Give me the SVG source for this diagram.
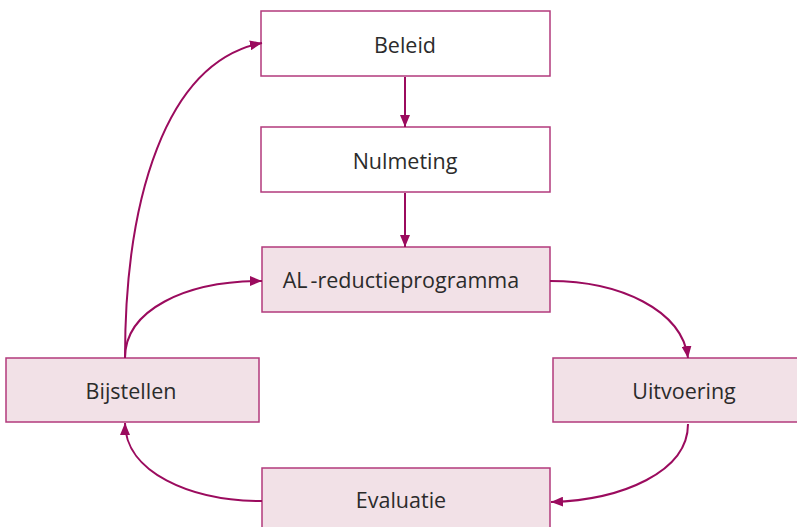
<svg xmlns="http://www.w3.org/2000/svg" width="797" height="527" viewBox="0 0 797 527">
  <style>
    .box { fill: #ffffff; stroke: #b23a7c; stroke-width: 1.5; }
    .box.tint { fill: #f2e1e7; }
    .label { font-family: "Open Sans", "Noto Sans", sans-serif; font-size: 21.5px; fill: #2b2b2b; text-anchor: middle; }
    .link { fill: none; stroke: #9b0b5e; stroke-width: 2; }
  </style>
  <defs>
    <marker id="arrow" viewBox="0 0 12 10" refX="12" refY="5" markerWidth="12" markerHeight="10" markerUnits="userSpaceOnUse" orient="auto">
      <path d="M0,0 L12,5 L0,10 Z" fill="#9b0b5e"/>
    </marker>
  </defs>
  <rect width="797" height="527" fill="#ffffff"/>

  <g id="beleid">
    <rect class="box" x="261" y="11" width="289" height="65"/>
    <text class="label" x="405" y="53">Beleid</text>
  </g>
  <g id="nulmeting">
    <rect class="box" x="261" y="127" width="289" height="65"/>
    <text class="label" x="405" y="169">Nulmeting</text>
  </g>
  <g id="al-reductieprogramma">
    <rect class="box tint" x="262" y="247" width="288" height="65"/>
    <text class="label" x="401" y="288">AL<tspan dx="3">-reductieprogramma</tspan></text>
  </g>
  <g id="bijstellen">
    <rect class="box tint" x="6" y="358" width="253" height="64"/>
    <text class="label" x="131" y="399">Bijstellen</text>
  </g>
  <g id="uitvoering">
    <rect class="box tint" x="553" y="358" width="250" height="64"/>
    <text class="label" x="684" y="399">Uitvoering</text>
  </g>
  <g id="evaluatie">
    <rect class="box tint" x="262" y="468" width="288" height="65"/>
    <text class="label" x="401" y="508">Evaluatie</text>
  </g>

  <g id="connectors">
    <path class="link" d="M405,77 L405,127" marker-end="url(#arrow)"/>
    <path class="link" d="M405,193 L405,247" marker-end="url(#arrow)"/>
    <path class="link" d="M550,281 C620,281 682,310 688,358" marker-end="url(#arrow)"/>
    <path class="link" d="M688,424 C688,472 622,500 551,502" marker-end="url(#arrow)"/>
    <path class="link" d="M262,501 C190,501 125,472 125,423" marker-end="url(#arrow)"/>
    <path class="link" d="M125,358 C125,310 185,281 262,281" marker-end="url(#arrow)"/>
    <path class="link" d="M125,358 C125,200 165,62 262,43" marker-end="url(#arrow)"/>
  </g>
</svg>
